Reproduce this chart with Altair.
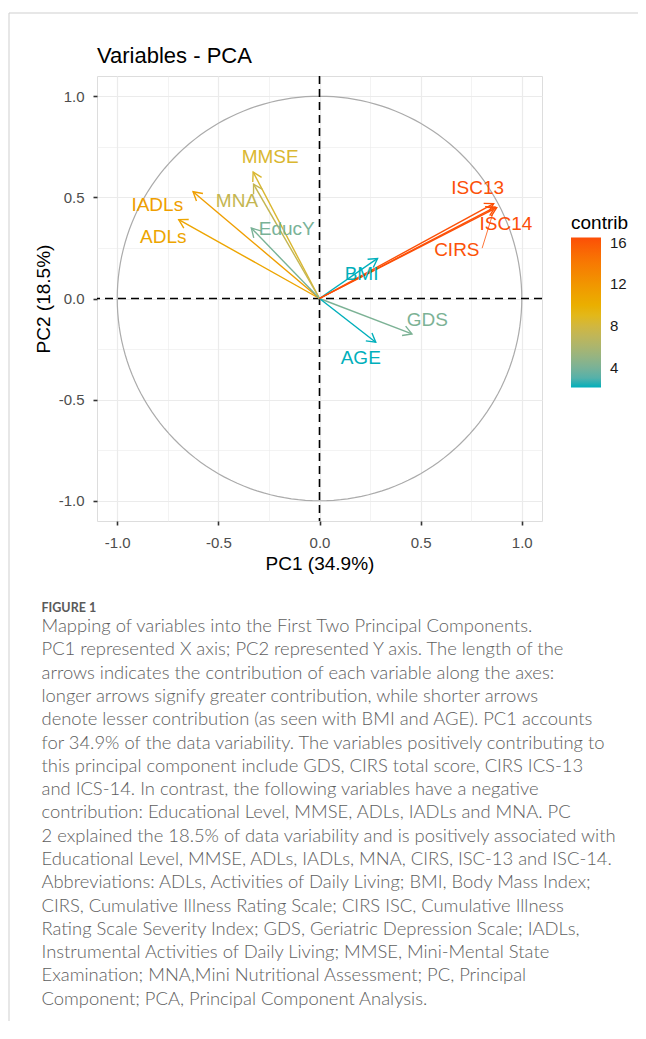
import altair as alt
import pandas as pd

# ---------------- data ----------------
variables = ["ADLs", "IADLs", "MMSE", "MNA", "EducY", "BMI", "GDS", "AGE", "CIRS", "ISC13", "ISC14"]
pc1 = [-0.696, -0.625, -0.328, -0.326, -0.337, 0.287, 0.457, 0.278, 0.868, 0.861, 0.876]
pc2 = [0.390, 0.528, 0.625, 0.565, 0.348, 0.198, -0.175, -0.216, 0.452, 0.469, 0.449]
contrib = [10.8, 11.4, 8.5, 7.3, 4.0, 2.1, 4.1, 2.1, 16.3, 16.4, 16.5]
# label anchor positions (repelled labels), in PC units
label_x = [-0.772, -0.802, -0.244, -0.408, -0.162, 0.208, 0.533, 0.204, 0.679, 0.782, 0.922]
label_y = [0.306, 0.461, 0.700, 0.482, 0.346, 0.121, -0.106, -0.292, 0.239, 0.545, 0.367]
# repel connector segment for the CIRS label
seg_var = ["CIRS"]
seg_x = [0.804]
seg_y = [0.249]
seg_x2 = [0.856]
seg_y2 = [0.417]
seg_contrib = [16.3]

axis_values = [-1.0, -0.75, -0.5, -0.25, 0.0, 0.25, 0.5, 0.75, 1.0]
legend_values = [4, 8, 12, 16]
gradient_colors = ["#00AFBB", "#E7B800", "#FC4E07"]

title_text = "Variables - PCA"
x_title = "PC1 (34.9%)"
y_title = "PC2 (18.5%)"
legend_title = "contrib"
figure_label = "FIGURE 1"
caption_lines = [
    "Mapping of variables into the First Two Principal Components.",
    "PC1 represented X axis; PC2 represented Y axis. The length of the",
    "arrows indicates the contribution of each variable along the axes:",
    "longer arrows signify greater contribution, while shorter arrows",
    "denote lesser contribution (as seen with BMI and AGE). PC1 accounts",
    "for 34.9% of the data variability. The variables positively contributing to",
    "this principal component include GDS, CIRS total score, CIRS ICS-13",
    "and ICS-14. In contrast, the following variables have a negative",
    "contribution: Educational Level, MMSE, ADLs, IADLs and MNA. PC",
    "2 explained the 18.5% of data variability and is positively associated with",
    "Educational Level, MMSE, ADLs, IADLs, MNA, CIRS, ISC-13 and ISC-14.",
    "Abbreviations: ADLs, Activities of Daily Living; BMI, Body Mass Index;",
    "CIRS, Cumulative Illness Rating Scale; CIRS ISC, Cumulative Illness",
    "Rating Scale Severity Index; GDS, Geriatric Depression Scale; IADLs,",
    "Instrumental Activities of Daily Living; MMSE, Mini-Mental State",
    "Examination; MNA,Mini Nutritional Assessment; PC, Principal",
    "Component; PCA, Principal Component Analysis.",
]

# ---------------- tables ----------------
df = pd.DataFrame({"var": variables, "PC1": pc1, "PC2": pc2, "contrib": contrib,
                   "lx": label_x, "ly": label_y})
seg_df = pd.DataFrame({"var": seg_var, "sx": seg_x, "sy": seg_y, "sx2": seg_x2,
                       "sy2": seg_y2, "contrib": seg_contrib})
one = pd.DataFrame({"k": [0]})

FONT = "Liberation Sans"
W, H = 445, 445
cmin, cmax = min(contrib), max(contrib)

minor_test = "abs(round(datum.value*4)) % 2 == 1"
label_expr = ("abs(round(datum.value*4)) % 2 == 1 ? '' : "
              "replace(format(datum.value, '.1f'), '\u2212', '-')")

common_axis = dict(
    values=axis_values, labelExpr=label_expr, labelFont=FONT, labelFontSize=15,
    labelColor="#4D4D4D", labelFlush=False, labelOverlap=False, labelBound=False,
    tickSize=4, tickWidth=1.6, tickColor="#333333",
    tickOpacity={"condition": {"test": minor_test, "value": 0}, "value": 1},
    grid=True, gridColor="#EBEBEB",
    gridWidth={"condition": {"test": minor_test, "value": 0.6}, "value": 1.2},
    domain=False, titleFont=FONT, titleFontSize=19, titleFontWeight="normal",
    titleColor="#000000",
)
ax_x = alt.Axis(title=x_title, labelPadding=10, titleY=33.5, **common_axis)
ax_y = alt.Axis(title=y_title, labelPadding=9, titleX=-44, **common_axis)
xs = alt.Scale(domain=[-1.1, 1.1], nice=False, zero=False)
ys = alt.Scale(domain=[-1.1, 1.1], nice=False, zero=False)

cscale = alt.Scale(domain=[cmin, (cmin + cmax) / 2, cmax], range=gradient_colors,
                   interpolate="lab")
legend = alt.Legend(type="gradient", orient="none", legendX=474, legendY=137.5,
                    direction="vertical",
                    gradientLength=150, gradientThickness=30, values=legend_values,
                    title=legend_title, titleFont=FONT, titleFontSize=19,
                    titleFontWeight="normal", titleColor="#000000", titlePadding=5,
                    labelFont=FONT, labelFontSize=15, labelColor="#1A1A1A",
                    labelOffset=9, gradientStrokeWidth=0)
color_leg = alt.Color("contrib:Q", scale=cscale, legend=legend)
color = alt.Color("contrib:Q", scale=cscale, legend=None)

# reference circle of radius 1
circle = (
    alt.Chart(alt.sequence(0, 362, 2, as_="deg"))
    .transform_calculate(cx="cos(datum.deg*PI/180)", cy="sin(datum.deg*PI/180)")
    .mark_line(color="#ABABAB", strokeWidth=1.2)
    .encode(x=alt.X("cx:Q", scale=xs, axis=ax_x), y=alt.Y("cy:Q", scale=ys, axis=ax_y),
            order="deg:Q")
)

hline = alt.Chart(one).mark_rule(color="#000000", strokeDash=[8, 5], strokeWidth=1.6).encode(
    y=alt.YDatum(0, scale=ys, axis=ax_y))
vline = alt.Chart(one).mark_rule(color="#000000", strokeDash=[8, 5], strokeWidth=1.6).encode(
    x=alt.XDatum(0, scale=xs, axis=ax_x))

base = alt.Chart(df)
shafts = base.transform_calculate(o="0").mark_rule(strokeWidth=1.4).encode(
    x=alt.X("o:Q", scale=xs, axis=ax_x), y=alt.Y("o:Q", scale=ys, axis=ax_y),
    x2="PC1:Q", y2="PC2:Q", color=color)

heads = base.transform_calculate(
    ang="(atan2(datum.PC1, datum.PC2)*180/PI + 360) % 360"
).mark_point(shape="M-0.5,0.866L0,0L0.5,0.866", filled=False, size=400,
             strokeWidth=1.4, opacity=1).encode(
    x=alt.X("PC1:Q", scale=xs, axis=ax_x), y=alt.Y("PC2:Q", scale=ys, axis=ax_y),
    angle=alt.Angle("ang:Q", scale=None), color=color)

connector = alt.Chart(seg_df).mark_rule(strokeWidth=0.8).encode(
    x=alt.X("sx:Q", scale=xs, axis=ax_x), y=alt.Y("sy:Q", scale=ys, axis=ax_y),
    x2="sx2:Q", y2="sy2:Q", color=color)

labels = base.mark_text(font=FONT, fontSize=19, align="center", baseline="middle").encode(
    x=alt.X("lx:Q", scale=xs, axis=ax_x), y=alt.Y("ly:Q", scale=ys, axis=ax_y),
    text="var:N", color=color_leg)

# page decoration, title and caption (pixel positions relative to the plot area)
left_border = alt.Chart(one).mark_rule(color="#CFCFCF", strokeWidth=1).encode(
    x=alt.value(-88), y=alt.value(-63), y2=alt.value(950))
top_border = alt.Chart(one).mark_rule(color="#CFCFCF", strokeWidth=1).encode(
    x=alt.value(-88), x2=alt.value(545), y=alt.value(-63))
title = alt.Chart(one).mark_text(font=FONT, fontSize=22, align="left", baseline="alphabetic",
                                 color="#000000").encode(
    x=alt.value(0), y=alt.value(-13.5), text=alt.value(title_text))
fig_label = alt.Chart(one).mark_text(font="Lato", fontSize=12.5, fontWeight="bold", align="left",
                                     baseline="alphabetic", color="#5A5A5A").encode(
    x=alt.value(-55.5), y=alt.value(535.5), text=alt.value(figure_label))
caption = alt.Chart(one).mark_text(font="Lato", fontSize=18.4, fontWeight=300, align="left",
                                   baseline="alphabetic",
                                   color="#5E5E5E", lineBreak="\n", lineHeight=23.3).encode(
    x=alt.value(-55.5), y=alt.value(556), text=alt.value("\n".join(caption_lines)))

chart = alt.layer(
    left_border, top_border, circle, hline, vline, shafts, heads, connector, labels,
    title, fig_label, caption
).resolve_legend(color="independent").properties(
    width=W, height=H, autosize="none",
    padding={"left": 89, "top": 68, "right": 96, "bottom": 500},
).configure_view(stroke=None).configure(background="white")

chart.save("out.html", embed_options={"renderer": "svg", "actions": False})
